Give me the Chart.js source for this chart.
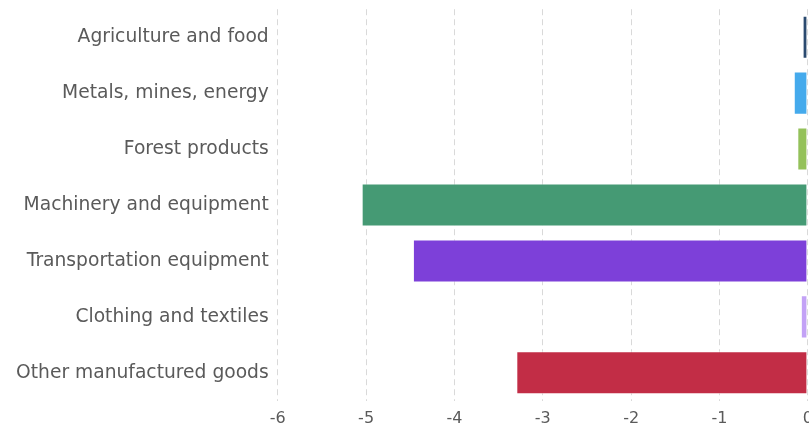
<!DOCTYPE html>
<html>
<head>
<meta charset="utf-8">
<script src="https://cdn.jsdelivr.net/npm/chart.js@4/dist/chart.umd.min.js"></script>
<style>
  html, body { margin: 0; padding: 0; background: #fff; overflow: hidden; width: 809px; height: 430px; }
  #wrap { width: 821px; height: 447px; margin-top: -11px; }
</style>
</head>
<body>
<div id="wrap"><canvas id="chart" width="821" height="447"></canvas></div>
<script>
const categories = [
  'Agriculture and food',
  'Metals, mines, energy',
  'Forest products',
  'Machinery and equipment',
  'Transportation equipment',
  'Clothing and textiles',
  'Other manufactured goods'
];
const values = [-0.06, -0.16, -0.12, -5.05, -4.47, -0.08, -3.3];
const barColors = ['#2b4a6f', '#45aaec', '#94c15a', '#459a74', '#7d40d9', '#c3a2f6', '#c22d46'];
const xTicks = [-6, -5, -4, -3, -2, -1, 0];

const fontFam = "'DejaVu Sans', Verdana, sans-serif";

const ctx = document.getElementById('chart').getContext('2d');
const myChart = new Chart(ctx, {
  type: 'bar',
  data: {
    labels: categories,
    datasets: [{
      data: values,
      backgroundColor: barColors,
      borderColor: 'rgba(255,255,255,0.6)',
      borderWidth: 1,
      borderSkipped: false,
      categoryPercentage: 1,
      barPercentage: 0.77
    }]
  },
  options: {
    indexAxis: 'y',
    responsive: false,
    animation: false,
    layout: { padding: { top: 0, bottom: 0, left: 7, right: 0 } },
    plugins: {
      legend: { display: false },
      tooltip: { enabled: false }
    },
    scales: {
      x: {
        min: xTicks[0],
        max: xTicks[xTicks.length - 1],
        afterBuildTicks: (s) => { s.ticks = xTicks.map(v => ({ value: v })); },
        border: { display: false, dash: [6, 4] },
        grid: { color: '#d9d9d9', lineWidth: 1, drawTicks: false },
        ticks: {
          padding: 8,
          color: '#5a5a5a',
          font: { family: fontFam, size: 16 },
          callback: (v) => String(v)
        }
      },
      y: {
        border: { display: false },
        grid: { display: false, drawTicks: false },
        ticks: {
          padding: 9,
          color: '#5a5a5a',
          font: { family: fontFam, size: 18.7 }
        }
      }
    }
  }
});
</script>
</body>
</html>
